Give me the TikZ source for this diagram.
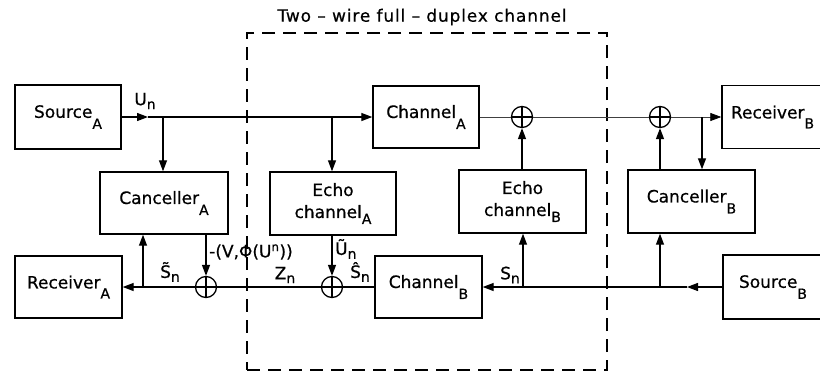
\documentclass[tikz,border=0pt]{standalone}
\usepackage{fontspec}
\setmainfont{DejaVu Sans}[FakeBold=0.6]
\usetikzlibrary{arrows.meta}
\newcommand\lsub[2][-11pt]{\raisebox{#1}{\fontsize{14}{14}\selectfont #2}}
\begin{document}
\begin{tikzpicture}[x=1pt,y=-1pt,font=\fontsize{17}{22}\selectfont,
  box/.style={draw,line width=1.4pt,rectangle,inner sep=0pt,align=center},
  wire/.style={line width=1.3pt},
  thinwire/.style={line width=0.8pt,draw=black!75},
  arr/.style={-{Triangle[length=11pt,width=8pt,color=black]}},
  summer/.style={circle,draw,line width=1.3pt,minimum size=21pt,inner sep=0pt,
    path picture={\draw[line width=1.3pt]
      (path picture bounding box.north) -- (path picture bounding box.south)
      (path picture bounding box.west) -- (path picture bounding box.east);}},
  lbl/.style={inner sep=0pt,font=\fontsize{17}{19}\selectfont},
  frame/.style={draw,line width=1.2pt,dash pattern=on 13pt off 8pt,inner sep=0pt}]
\useasboundingbox (0,0) rectangle (820,373);
\clip (0,0) rectangle (820,373);

% dashed channel frame and title
\node[frame,minimum width=360pt,minimum height=337pt] (dbox) at (427,201.5) {};
\node[inner sep=0pt] (title) at (422,17) {\addfontfeature{LetterSpace=5}Two – wire full – duplex channel};

% boxes
\node[box,minimum width=106pt,minimum height=64pt] (srcA) at (68,117) {Source\lsub{A}};
\node[box,minimum width=128pt,minimum height=62pt] (canA) at (164,203) {Canceller\lsub{A}};
\node[box,minimum width=126pt,minimum height=63pt] (echoA) at (333,203.5) {Echo\\channel\lsub[-6pt]{A}};
\node[box,minimum width=107pt,minimum height=62pt] (recA) at (68.5,287) {Receiver\lsub[-10pt]{A}};
\node[box,minimum width=106pt,minimum height=62pt] (chA) at (426,117) {Channel\lsub{A}};
\node[box,minimum width=107pt,minimum height=62pt] (chB) at (428.5,287) {Channel\lsub{B}};
\node[box,minimum width=127pt,minimum height=63pt] (echoB) at (522.5,201.5) {Echo\\channel\lsub[-6pt]{B}};
\node[box,minimum width=127pt,minimum height=63pt] (canB) at (691.5,201.5) {Canceller\lsub{B}};
\node[box,minimum width=101pt,minimum height=63pt] (recB) at (772.5,117) {Receiver\lsub[-10pt]{B}};
\node[box,minimum width=100pt,minimum height=64pt] (srcB) at (773,287) {Source\lsub{B}};

% summers
\node[summer] (sum1) at (522,117) {};
\node[summer] (sum2) at (660,117) {};
\node[summer] (sumA) at (206,287) {};
\node[summer] (sumB) at (332,287) {};

% branch coordinates
\coordinate (tipA) at (148,117);
\coordinate (brA) at (163,117);
\coordinate (brE) at (332,117);
\coordinate (brB) at (702,117);
\coordinate (tipB) at (687,287);
\coordinate (brC) at (660,287);
\coordinate (brD) at (523,287);
\coordinate (brF) at (143,287);

% top path A -> B
\draw[wire,arr] (srcA) -- (tipA);
\draw[wire,arr] (tipA) -- (chA);
\draw[wire,arr] (brA) -- (brA |- canA.north);
\draw[wire,arr] (brE) -- (brE |- echoA.north);
\draw[thinwire] (chA) -- (sum1);
\draw[thinwire] (sum1) -- (sum2);
\draw[thinwire,arr] (sum2) -- (recB);
\draw[wire,arr] (brB) -- (brB |- canB.north);
\draw[wire,arr] (echoB.north -| sum1) -- (sum1.south);
\draw[wire,arr] (canB.north -| sum2) -- (sum2.south);

% bottom path B -> A
\draw[wire,arr] (srcB) -- (tipB);
\draw[wire,arr] (tipB) -- (chB);
\draw[wire,arr] (brC) -- (brC |- canB.south);
\draw[wire,arr] (brD) -- (brD |- echoB.south);
\draw[wire] (chB) -- (sumB);
\draw[wire,arr] (echoA.south -| sumB) -- (sumB.north);
\draw[wire] (sumB) -- (sumA);
\draw[wire,arr] (canA.south -| sumA) -- (sumA.north);
\draw[wire,arr] (sumA) -- (recA);
\draw[wire,arr] (brF) -- (brF |- canA.south);

% labels
\node[lbl] (lu) at (145,101) {U\lsub[-4pt]{n}};
\node[lbl,anchor=west] (lv) at (209,252) {-(V,Φ(U\textsuperscript{n}))};
\node[lbl,anchor=west] (lut) at (335,249) {Ũ\lsub[-4pt]{n}};
\node[lbl] (lsh) at (360,272) {Ŝ\lsub[-4pt]{n}};
\node[lbl] (lz) at (285,275) {Z\lsub[-4pt]{n}};
\node[lbl] (lst) at (170,272) {S^^^^0303\lsub[-4pt]{n}};
\node[lbl] (ls) at (510,275) {S\lsub[-4pt]{n}};
\end{tikzpicture}
\end{document}
